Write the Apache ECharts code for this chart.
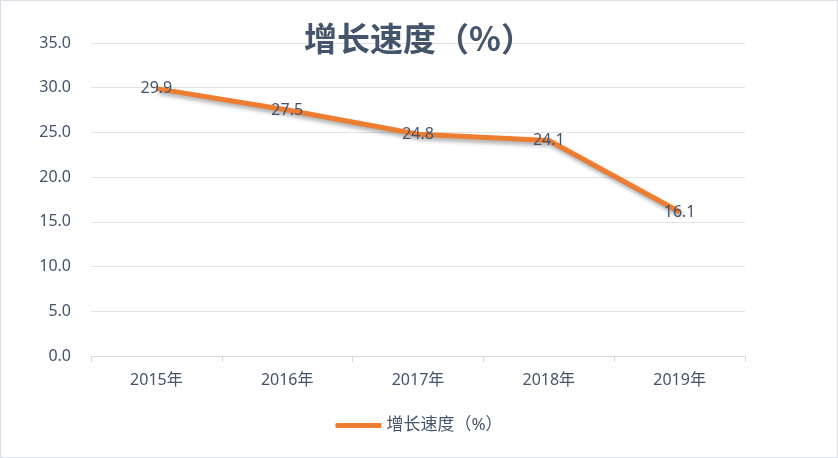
<!DOCTYPE html>
<html>
<head>
<meta charset="utf-8">
<script src="https://cdn.jsdelivr.net/npm/echarts@6/dist/echarts.min.js"></script>
<style>
  html, body { margin: 0; padding: 0; background: #fff; }
  #chart { width: 836px; height: 456px; border: 1px solid #d9dde4; }
</style>
</head>
<body>
<div id="chart"></div>
<script>
const years = ['2015年', '2016年', '2017年', '2018年', '2019年']
const growth = [29.9, 27.5, 24.8, 24.1, 16.1]
const seriesName = '增长速度（%）'

const chart = echarts.init(document.getElementById('chart'))
const textColor = '#44546a'
const font = '"Noto Sans", "Noto Sans CJK SC", sans-serif'
chart.setOption({
  animation: false,
  title: {
    text: seriesName,
    left: 'center',
    top: 16,
    textStyle: { fontFamily: '"Noto Sans CJK SC"', fontSize: 33, fontWeight: 'bold', color: textColor }
  },
  grid: { left: 90, right: 92, top: 42, bottom: 101 },
  legend: {
    bottom: 18,
    left: 'center',
    itemWidth: 46,
    itemHeight: 5,
    itemGap: 4,
    icon: 'roundRect',
    itemStyle: { color: '#ed7d31' },
    textStyle: { fontFamily: font, fontSize: 17, color: textColor },
    data: [seriesName]
  },
  xAxis: {
    type: 'category',
    data: years,
    axisLine: { lineStyle: { color: '#d9d9d9' } },
    axisTick: { show: true, length: 6, lineStyle: { color: '#d9d9d9' } },
    axisLabel: { fontFamily: font, fontSize: 16, color: textColor, margin: 16 }
  },
  yAxis: {
    type: 'value',
    min: 0,
    max: 35,
    interval: 5,
    axisLine: { show: false },
    axisTick: { show: false },
    axisLabel: {
      fontFamily: font, fontSize: 16, color: textColor, margin: 20,
      formatter: v => v.toFixed(1)
    },
    splitLine: { lineStyle: { color: '#e3e3e3' } }
  },
  series: [{
    name: seriesName,
    type: 'line',
    data: growth,
    symbol: 'circle',
    symbolSize: 1,
    showSymbol: true,
    z: 2,
    lineStyle: {
      color: '#ed7d31',
      width: 5,
      shadowColor: 'rgba(0,0,0,0.35)',
      shadowBlur: 4,
      shadowOffsetX: 2,
      shadowOffsetY: 3
    },
    itemStyle: { color: '#ed7d31' },
    label: {
      show: true,
      position: 'inside',
      fontFamily: font,
      fontSize: 16,
      color: textColor,
      formatter: p => p.value.toFixed(1)
    }
  }]
})
</script>
</body>
</html>
